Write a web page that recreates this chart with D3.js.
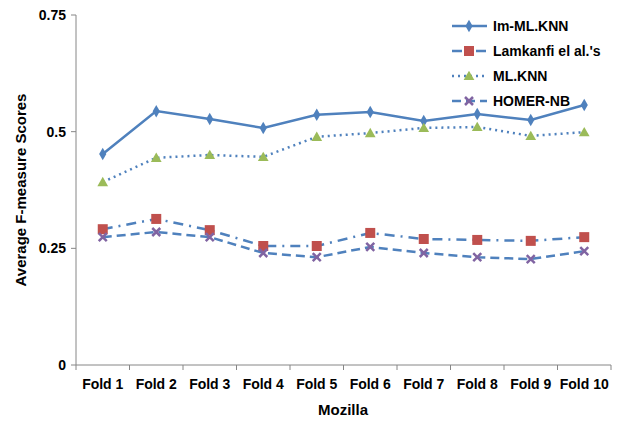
<html>
<head>
<script src="https://d3js.org/d3.v7.min.js"></script>
<style>
body { margin:0; background:#fff; font-family:"Liberation Sans", Arial, sans-serif; }
text { font-weight:bold; fill:#000; }
</style>
</head>
<body>
<script>
var folds = ["Fold 1","Fold 2","Fold 3","Fold 4","Fold 5","Fold 6","Fold 7","Fold 8","Fold 9","Fold 10"];
var imMlknn = [0.452,0.544,0.527,0.508,0.536,0.542,0.523,0.538,0.525,0.557];
var lamkanfi = [0.291,0.313,0.289,0.255,0.255,0.283,0.270,0.268,0.266,0.274];
var mlknn = [0.392,0.444,0.450,0.446,0.489,0.497,0.508,0.510,0.491,0.499];
var homer = [0.274,0.285,0.274,0.240,0.231,0.253,0.240,0.231,0.227,0.244];
var yTicks = [0, 0.25, 0.5, 0.75];
var yTickLabels = ["0","0.25","0.5","0.75"];

var series = [
  {name:"Im-ML.KNN", values:imMlknn, dash:null, marker:"diamond", color:"#4F81BD"},
  {name:"Lamkanfi el al.'s", values:lamkanfi, dash:"10,6,2,6", marker:"square", color:"#C0504D"},
  {name:"ML.KNN", values:mlknn, dash:"2,4", marker:"triangle", color:"#9BBB59"},
  {name:"HOMER-NB", values:homer, dash:"9,5", marker:"x", color:"#8064A2"}
];

var width = 623, height = 425;
var svg = d3.select("body").append("svg").attr("width", width).attr("height", height);

var x = d3.scaleBand().domain(folds).range([76, 611]);
var y = d3.scaleLinear().domain([0, 0.75]).range([365, 15]);

svg.append("line").attr("x1",76).attr("x2",76).attr("y1",15).attr("y2",365).attr("stroke","#868686");
svg.append("line").attr("x1",76).attr("x2",611).attr("y1",365).attr("y2",365).attr("stroke","#868686");

yTicks.forEach(function(t, i) {
  svg.append("line").attr("x1",71).attr("x2",76).attr("y1",y(t)).attr("y2",y(t)).attr("stroke","#868686");
  svg.append("text").attr("x",66).attr("y",y(t)+5).attr("text-anchor","end")
    .attr("font-size",14).text(yTickLabels[i]);
});
folds.forEach(function(f) {
  svg.append("line").attr("x1",x(f)).attr("x2",x(f)).attr("y1",365).attr("y2",370).attr("stroke","#868686");
  svg.append("text").attr("x",x(f)+x.bandwidth()/2).attr("y",389).attr("text-anchor","middle")
    .attr("font-size",14).text(f);
});
svg.append("line").attr("x1",611).attr("x2",611).attr("y1",365).attr("y2",370).attr("stroke","#868686");

svg.append("text").attr("x",343).attr("y",415).attr("text-anchor","middle").attr("font-size",15).text("Mozilla");
svg.append("text").attr("transform","translate(26,190) rotate(-90)").attr("text-anchor","middle")
  .attr("font-size",15).text("Average F-measure Scores");

var cx = function(i){ return x(folds[i]) + x.bandwidth()/2; };
var line = d3.line().x(function(d,i){ return cx(i); }).y(function(d){ return y(d); });

function marker(g, type, px, py, color) {
  if (type === "diamond") {
    g.append("path").attr("d", d3.symbol(d3.symbolDiamond, 45)()).attr("transform","translate("+px+","+py+")").attr("fill","#4F81BD");
  } else if (type === "square") {
    g.append("rect").attr("x",px-5).attr("y",py-5).attr("width",10).attr("height",10).attr("fill",color);
  } else if (type === "triangle") {
    g.append("path").attr("d", d3.symbol(d3.symbolTriangle, 50)()).attr("transform","translate("+px+","+(py+1)+")").attr("fill",color);
  } else {
    g.append("path").attr("d","M-4,-4L4,4M-4,4L4,-4").attr("transform","translate("+px+","+py+")")
      .attr("stroke",color).attr("stroke-width",2.5);
  }
}

series.forEach(function(s) {
  svg.append("path").datum(s.values).attr("d", line).attr("fill","none")
    .attr("stroke","#4F81BD").attr("stroke-width",2.5).attr("stroke-dasharray", s.dash);
  var g = svg.append("g");
  s.values.forEach(function(v,i){ marker(g, s.marker, cx(i), y(v), s.color); });
});

var leg = svg.append("g");
series.forEach(function(s, i) {
  var ly = 26 + i*25;
  leg.append("line").attr("x1",452).attr("x2",487).attr("y1",ly).attr("y2",ly)
    .attr("stroke","#4F81BD").attr("stroke-width",2.5).attr("stroke-dasharray", s.dash);
  marker(leg, s.marker, 469, ly, s.color);
  leg.append("text").attr("x",482+ 0 + 11).attr("y",ly+5).attr("font-size",14).text(s.name);
});
</script>
</body>
</html>
